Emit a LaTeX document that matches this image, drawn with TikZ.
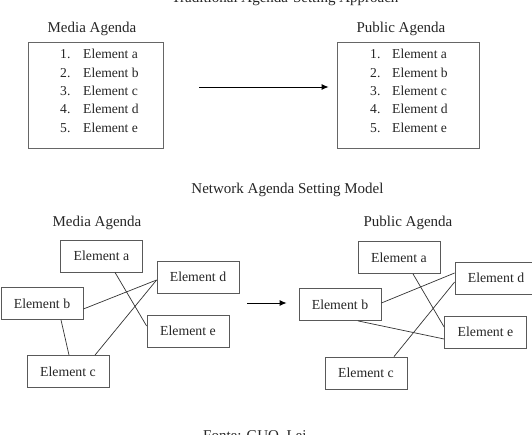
\documentclass[tikz,border=0pt]{standalone}
\usepackage{fontspec}
\setmainfont{Liberation Serif}
\usetikzlibrary{arrows.meta}
\begin{document}
\begin{tikzpicture}[x=1pt,y=-1pt,
  lbl/.style={inner sep=0pt,text=black!85,font=\fontsize{15}{18}\selectfont},
  itm/.style={inner sep=0pt,anchor=west,text=black!85,font=\fontsize{13.6}{16}\selectfont},
  listbox/.style={draw=black!60,line width=0.8pt,inner sep=0pt},
  elbox/.style={draw=black!65,line width=0.8pt,inner sep=0pt,minimum width=82pt,minimum height=32pt,text=black!85,font=\fontsize{13.8}{16}\selectfont},
  link/.style={draw=black!80,line width=0.7pt},
  flow/.style={draw=black,line width=0.9pt,-{Latex[length=7pt,width=6pt]}}]
\useasboundingbox (0,0) rectangle (532,435);
\clip (0,0) rectangle (532,435);
\fill[white] (0,0) rectangle (532,435);

% top section
\node[lbl,anchor=base] (t1) at (285,2.5) {Traditional Agenda-Setting Approach};
\node[lbl] (mt) at (92,29) {Media Agenda};
\node[lbl] (pt) at (401,29) {Public Agenda};
\node[listbox,minimum width=135pt,minimum height=106pt] (mbox) at (95.5,95) {};
\node[listbox,minimum width=142pt,minimum height=106pt] (pbox) at (408,95) {};
\foreach \n/\t/\y in {1/a/54,2/b/73,3/c/91,4/d/109,5/e/128}{
  \node[itm] (mn\n) at (60,\y) {\n.};
  \node[itm] (me\n) at (83,\y) {Element \t};
  \node[itm] (pn\n) at (370,\y) {\n.};
  \node[itm] (pe\n) at (392,\y) {Element \t};
}
\draw[flow] ([xshift=36pt,yshift=8pt]mbox.east) -- ([xshift=-8pt,yshift=8pt]pbox.west);

% network section
\node[lbl] (t2) at (287.5,190) {Network Agenda Setting Model};
\node[lbl] (lm) at (97,223) {Media Agenda};
\node[lbl] (rp) at (408,223) {Public Agenda};

\node[elbox] (La) at (101.5,256) {Element a};
\node[elbox] (Ld) at (198,277) {Element d};
\node[elbox] (Lb) at (42,303.5) {Element b};
\node[elbox] (Le) at (188,331) {Element e};
\node[elbox] (Lc) at (68,371.5) {Element c};

\draw[link] ([xshift=13.5pt]La.south) -- ([yshift=5pt]Le.west);
\draw[link] ([yshift=-5.5pt]Lb.east) -- ([yshift=-3pt]Ld.west);
\draw[link] ([xshift=27pt]Lc.north) -- ([yshift=-3pt]Ld.west);
\draw[link] ([xshift=19pt]Lb.south) -- ([xshift=1pt]Lc.north);

\node[elbox] (Ra) at (399,257.5) {Element a};
\node[elbox] (Rd) at (496,278) {Element d};
\node[elbox] (Rb) at (340,304.5) {Element b};
\node[elbox] (Re) at (485.5,332) {Element e};
\node[elbox] (Rc) at (366,373) {Element c};

\draw[link] ([xshift=14pt]Ra.south) -- ([yshift=5pt]Re.west);
\draw[link] ([yshift=1.5pt]Rb.east) -- ([yshift=5pt]Rd.west);
\draw[link] ([xshift=28pt]Rc.north) -- ([yshift=-4pt]Rd.west);
\draw[link] ([xshift=18pt]Rb.south) -- ([yshift=-7pt]Re.west);

\coordinate (ms) at (247,303);
\draw[flow] (ms) -- ([xshift=-12pt,yshift=1.5pt]Rb.west);

\node[lbl,anchor=base west] (src) at (203,440) {Fonte: GUO, Lei};
\end{tikzpicture}
\end{document}
